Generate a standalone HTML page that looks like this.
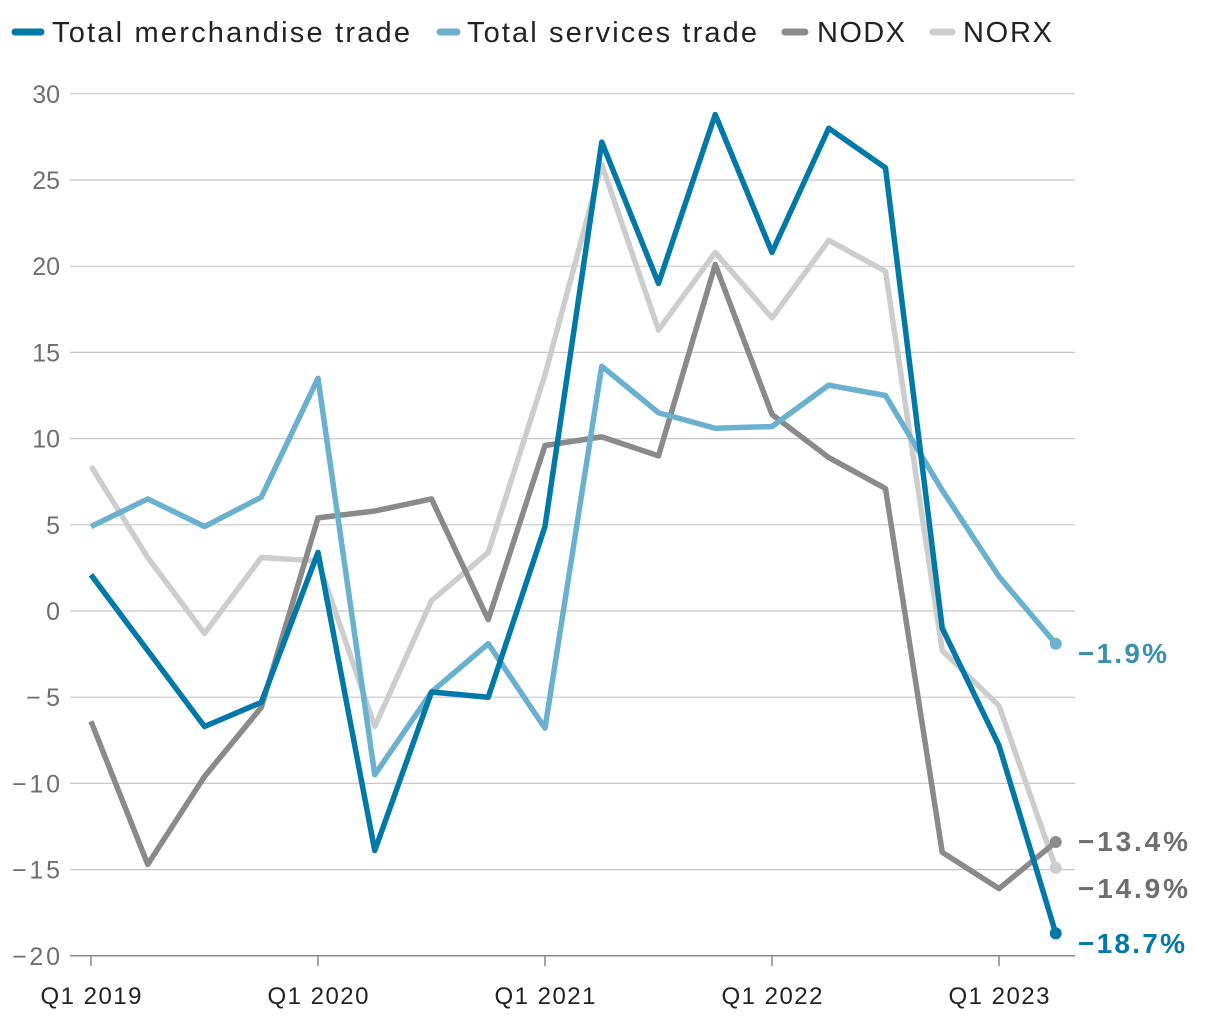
<!DOCTYPE html>
<html><head><meta charset="utf-8"><style>
body{margin:0;background:#fff;font-family:"Liberation Sans",sans-serif}
svg{display:block}
</style></head><body>
<svg id="c" width="1220" height="1020"></svg>
<script>
const quarters=["Q1 2019","Q2 2019","Q3 2019","Q4 2019","Q1 2020","Q2 2020","Q3 2020","Q4 2020","Q1 2021","Q2 2021","Q3 2021","Q4 2021","Q1 2022","Q2 2022","Q3 2022","Q4 2022","Q1 2023","Q2 2023"];
const merch=[2.1,-2.3,-6.7,-5.3,3.4,-13.9,-4.7,-5.0,4.9,27.2,19.0,28.8,20.8,28.0,25.7,-1.0,-7.8,-18.7];
const services=[4.9,6.5,4.9,6.6,13.5,-9.5,-4.7,-1.9,-6.8,14.2,11.5,10.6,10.7,13.1,12.5,7.0,2.0,-1.9];
const nodx=[-6.4,-14.7,-9.6,-5.6,5.4,5.8,6.5,-0.5,9.6,10.1,9.0,20.1,11.4,8.9,7.1,-14.0,-16.1,-13.4];
const norx=[8.4,3.1,-1.3,3.1,2.9,-6.7,0.6,3.4,13.7,25.9,16.3,20.8,17.0,21.5,19.7,-2.3,-5.5,-14.9];
const yTicks=[30,25,20,15,10,5,0,-5,-10,-15,-20];
const xLabelIdx=[0,4,8,12,16];
const NS="http://www.w3.org/2000/svg";
const svg=document.getElementById('c');
const x=i=>91+i*56.75;
const y=v=>611-v*17.24;
function mk(t,a,p){const e=document.createElementNS(NS,t);for(const k in a)e.setAttribute(k,a[k]);(p||svg).appendChild(e);return e;}
yTicks.forEach(v=>{
 const g=mk('line',{x1:70,x2:1075,y1:y(v),y2:y(v),stroke:v===-20?'#888':'#c8c8c8','stroke-width':v===-20?1.5:1.2});
 
 
 const t=mk('text',{x:60,y:y(v)+9,'text-anchor':'end','font-size':25,fill:'#6e6e6e'});
 t.textContent=v<0?'\u2212'+Math.abs(v):v;
 if(v<0)t.setAttribute('textLength',v<=-10?48:34);
 
 
});
xLabelIdx.forEach(i=>{
 const tk=mk('line',{x1:x(i),x2:x(i),y1:956,y2:966,stroke:'#888','stroke-width':1.5});
 
 
 const t=mk('text',{x:x(i),y:1004,'text-anchor':'middle','font-size':24,fill:'#222',textLength:101});
 t.textContent=quarters[i];
 
 
});
const series=[
 {d:norx,c:'#cdcdcd',n:'norx',lab:'\u221214.9%',ly:898,lc:'#6e6e6e',w:110},
 {d:nodx,c:'#8a8a8a',n:'nodx',lab:'\u221213.4%',ly:851,lc:'#6e6e6e',w:110},
 {d:services,c:'#6ab0cf',n:'services',lab:'\u22121.9%',ly:663,lc:'#3a8fae',w:89},
 {d:merch,c:'#0079a8',n:'merchandise',lab:'\u221218.7%',ly:953,lc:'#0079a8',w:107}
];
series.forEach(s=>{
 const p=mk('polyline',{points:s.d.map((v,i)=>x(i)+','+y(v)).join(' '),fill:'none',stroke:s.c,'stroke-width':5.5,'stroke-linejoin':'round'});
 
 
 const L=s.d.length-1;
 const d=mk('circle',{cx:x(L),cy:y(s.d[L]),r:6,fill:s.c});
 
 
 const t=mk('text',{x:1078,y:s.ly,'font-size':28,'font-weight':'bold',fill:s.lc,textLength:s.w});
 t.textContent=s.lab;
 
 
});
const legend=[["Total merchandise trade",'#0079a8',12,44,52,358],["Total services trade",'#6ab0cf',437,460,467,290],["NODX",'#8a8a8a',782,808,817,88],["NORX",'#cdcdcd',930,955,963,89]];
legend.forEach(l=>{
 const sw=mk('line',{x1:l[2]+3,x2:l[3]-3,y1:32,y2:32,stroke:l[1],'stroke-width':7,'stroke-linecap':'round'});
 
 
 const t=mk('text',{x:l[4],y:42,'font-size':29,fill:'#222',textLength:l[5]});
 t.textContent=l[0];
 
 
});
</script>
</body></html>
